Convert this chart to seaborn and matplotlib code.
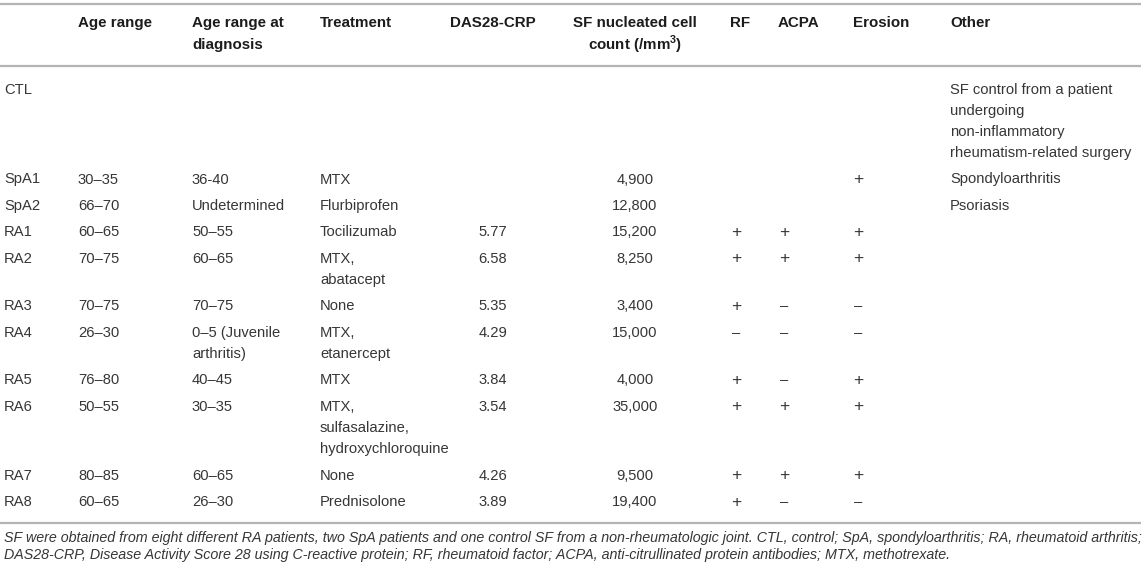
import matplotlib
matplotlib.use("Agg")
import matplotlib.pyplot as plt
import seaborn as sns

# Table content
headers = ["", "Age range", "Age range at\ndiagnosis", "Treatment", "DAS28-CRP",
           "SF nucleated cell\ncount (/mm$^3$)", "RF", "ACPA", "Erosion", "Other"]
patients = ["CTL", "SpA1", "SpA2", "RA1", "RA2", "RA3", "RA4", "RA5", "RA6", "RA7", "RA8"]
age_range = ["", "30–35", "66–70", "60–65", "70–75", "70–75", "26–30", "76–80", "50–55", "80–85", "60–65"]
age_at_diagnosis = ["", "36-40", "Undetermined", "50–55", "60–65", "70–75",
                    "0–5 (Juvenile\narthritis)", "40–45", "30–35", "60–65", "26–30"]
treatment = ["", "MTX", "Flurbiprofen", "Tocilizumab", "MTX,\nabatacept", "None",
             "MTX,\netanercept", "MTX", "MTX,\nsulfasalazine,\nhydroxychloroquine", "None", "Prednisolone"]
das28_crp = ["", "", "", "5.77", "6.58", "5.35", "4.29", "3.84", "3.54", "4.26", "3.89"]
sf_count = ["", "4,900", "12,800", "15,200", "8,250", "3,400", "15,000", "4,000", "35,000", "9,500", "19,400"]
rf = ["", "", "", "+", "+", "+", "–", "+", "+", "+", "+"]
acpa = ["", "", "", "+", "+", "–", "–", "–", "+", "+", "–"]
erosion = ["", "+", "", "+", "+", "–", "–", "+", "+", "+", "–"]
other = ["SF control from a patient\nundergoing\nnon-inflammatory\nrheumatism-related surgery",
         "Spondyloarthritis", "Psoriasis", "", "", "", "", "", "", "", ""]
footnote = ("SF were obtained from eight different RA patients, two SpA patients and one control SF from a "
            "non-rheumatologic joint. CTL, control; SpA, spondyloarthritis; RA, rheumatoid arthritis;\n"
            "DAS28-CRP, Disease Activity Score 28 using C-reactive protein; RF, rheumatoid factor; ACPA, "
            "anti-citrullinated protein antibodies; MTX, methotrexate.")

columns = [patients, age_range, age_at_diagnosis, treatment, das28_crp, sf_count, rf, acpa, erosion, other]

sns.set_style("white")
plt.rcParams["font.family"] = ["Liberation Sans", "DejaVu Sans"]
plt.rcParams["mathtext.fontset"] = "custom"
plt.rcParams["mathtext.rm"] = "Liberation Sans:bold"

fig = plt.figure(figsize=(11.44, 5.71), dpi=100)
ax = fig.add_axes([0, 0, 1, 1])
ax.set_xlim(0, 1144)
ax.set_ylim(571, 0)
ax.axis("off")

text_color = "#363636"
head_color = "#1c1c1c"
line_color = "#b4b4b4"
fs = 10.6
line_h = 21
gap = 5.5

# column layout: (x, alignment)
col_x = [4, 78, 192, 320, 493, 635, 736, 784, 858, 950]
col_ha = ["left", "left", "left", "left", "center", "center", "center", "center", "center", "left"]
head_x = [4, 78, 192, 320, 493, 635, 730, 778, 853, 950]
head_ha = ["left", "left", "left", "left", "center", "center", "left", "left", "left", "left"]

# rules
for yy in [4, 66, 523]:
    ax.plot([0, 1141], [yy, yy], color=line_color, lw=1.6, solid_capstyle="butt")

# header
for h, x, ha in zip(headers, head_x, head_ha):
    for k, part in enumerate(h.split("\n")):
        ax.text(x, 23 + k * 22, part, ha=ha, va="center", fontsize=fs + 0.3,
                fontweight="bold", color=head_color)

# body rows
y = 90
for i in range(len(patients)):
    cells = [col[i] for col in columns]
    for cell, x, ha in zip(cells, col_x, col_ha):
        if not cell:
            continue
        # plus marks look a bit bigger in the source table
        size = fs + 2 if cell == "+" else fs
        for k, part in enumerate(cell.split("\n")):
            ax.text(x, y + k * line_h, part, ha=ha, va="center", fontsize=size, color=text_color)
    n_lines = max(c.count("\n") + 1 for c in cells)
    y += n_lines * line_h + gap

# footnote
for k, part in enumerate(footnote.split("\n")):
    ax.text(4, 538 + k * 17, part, ha="left", va="center", fontsize=10.25,
            style="italic", color=text_color)

fig.savefig("out.png", dpi=100)
